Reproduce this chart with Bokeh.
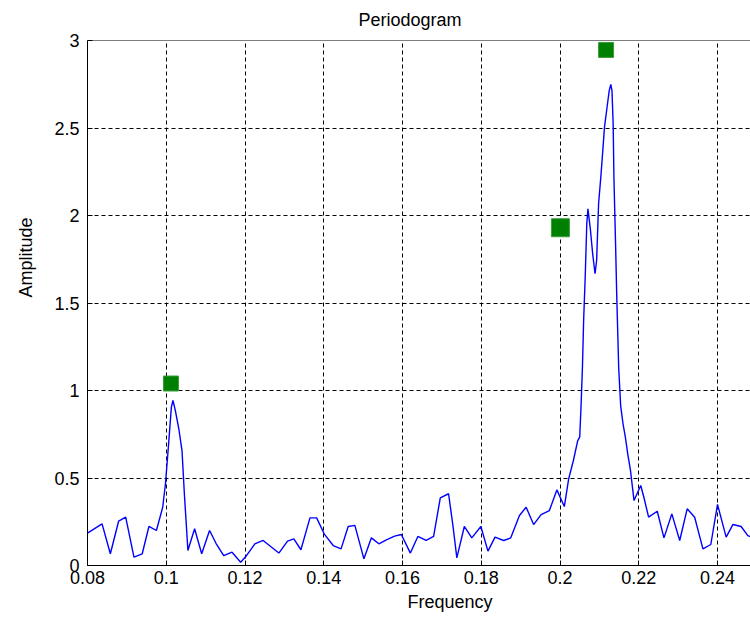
from bokeh.plotting import figure
from bokeh.models import Range1d, FixedTicker, Span, Title
from bokeh.embed import file_html
from bokeh.resources import INLINE

# ---- data ----
freq = [0.0800, 0.0837, 0.0858, 0.0879, 0.0897, 0.0918, 0.0939, 0.0956, 0.0975,
        0.0991, 0.0998, 0.1006, 0.1013, 0.1017, 0.1023, 0.1032, 0.1040, 0.1046,
        0.1055, 0.1072, 0.1090, 0.1110, 0.1127, 0.1146, 0.1167, 0.1189, 0.1201,
        0.1225, 0.1246, 0.1286, 0.1308, 0.1324, 0.1342, 0.1365, 0.1382, 0.1401,
        0.1424, 0.1444, 0.1462, 0.1479, 0.1502, 0.1521, 0.1540, 0.1559, 0.1580,
        0.1597, 0.1620, 0.1639, 0.1660, 0.1679, 0.1696, 0.1717, 0.1728, 0.1738,
        0.1757, 0.1776, 0.1799, 0.1817, 0.1835, 0.1857, 0.1875, 0.1897, 0.1914,
        0.1933, 0.1952, 0.1973, 0.1992, 0.2011, 0.2022, 0.2034, 0.2045, 0.2050,
        0.2053, 0.2057, 0.2060, 0.2064, 0.2068, 0.2071, 0.2077, 0.2083, 0.2089,
        0.2093, 0.2098, 0.2104, 0.2109, 0.2113, 0.2119, 0.2125, 0.2129, 0.2132,
        0.2135, 0.2137, 0.2141, 0.2144, 0.2149, 0.2154, 0.2160, 0.2166, 0.2172,
        0.2179, 0.2188, 0.2205, 0.2213, 0.2225, 0.2247, 0.2264, 0.2284, 0.2304,
        0.2323, 0.2342, 0.2363, 0.2383, 0.2400, 0.2422, 0.2439, 0.2460, 0.2477,
        0.2490]
amp = [0.185, 0.238, 0.067, 0.253, 0.276, 0.048, 0.067, 0.223, 0.200,
       0.333, 0.467, 0.695, 0.905, 0.943, 0.886, 0.780, 0.657, 0.410,
       0.086, 0.210, 0.067, 0.200, 0.124, 0.057, 0.076, 0.019, 0.048,
       0.124, 0.143, 0.071, 0.139, 0.152, 0.090, 0.272, 0.272, 0.181,
       0.114, 0.095, 0.223, 0.229, 0.038, 0.158, 0.124, 0.147, 0.168,
       0.177, 0.071, 0.166, 0.143, 0.166, 0.387, 0.410, 0.229, 0.044,
       0.223, 0.158, 0.223, 0.082, 0.162, 0.143, 0.158, 0.286, 0.333,
       0.234, 0.291, 0.314, 0.432, 0.337, 0.495, 0.600, 0.714, 0.733,
       0.886, 1.133, 1.400, 1.647, 1.952, 2.038, 1.924, 1.780, 1.667,
       1.743, 2.067, 2.229, 2.381, 2.505, 2.610, 2.714, 2.749, 2.714,
       2.524, 2.210, 1.848, 1.552, 1.133, 0.914, 0.810, 0.733, 0.638,
       0.543, 0.371, 0.457, 0.390, 0.276, 0.310, 0.158, 0.295, 0.143,
       0.324, 0.276, 0.095, 0.120, 0.349, 0.162, 0.234, 0.223, 0.171,
       0.160]

peak_freq = [0.1012, 0.2117]
peak_amp = [1.04, 2.946]
mid_freq = [0.2001]
mid_amp = [1.93]

x_ticks = [0.08, 0.10, 0.12, 0.14, 0.16, 0.18, 0.20, 0.22, 0.24]
x_tick_labels = ["0.08", "0.1", "0.12", "0.14", "0.16", "0.18", "0.2", "0.22", "0.24"]
y_ticks = [0, 0.5, 1, 1.5, 2, 2.5, 3]
y_tick_labels = ["0", "0.5", "1", "1.5", "2", "2.5", "3"]

FONT = "Liberation Sans"
FS = "18px"

p = figure(width=750, height=621, output_backend="svg", toolbar_location=None,
           x_range=Range1d(0.08, 0.24838), y_range=Range1d(0, 3),
           min_border_left=87, min_border_right=0, min_border_top=40,
           min_border_bottom=56)
p.background_fill_color = "white"
p.border_fill_color = "white"
p.outline_line_color = None

def add_title(text, side, offset, standoff, valign):
    t = Title(text=text, align="left", offset=offset, standoff=standoff,
              vertical_align=valign, text_font=FONT, text_font_size=FS,
              text_font_style="normal", text_color="black")
    p.add_layout(t, side)

add_title("Periodogram", "above", 271, 17, "top")
add_title("Frequency", "below", 320, 6, "bottom")
add_title("Amplitude", "left", 268, 28, "top")

for ax, ticks, labels in ((p.xaxis, x_ticks, x_tick_labels), (p.yaxis, y_ticks, y_tick_labels)):
    ax.ticker = FixedTicker(ticks=ticks)
    ax.major_label_overrides = {t: l for t, l in zip(ticks, labels)}
    ax.major_tick_in = 5
    ax.major_tick_out = 0
    ax.minor_tick_line_color = None
    ax.axis_line_color = "black"
    ax.major_tick_line_color = "black"
    ax.major_label_text_font = FONT
    ax.major_label_text_font_size = FS
    ax.major_label_text_color = "black"

p.xaxis.major_label_standoff = 5
p.yaxis.major_label_standoff = 8

p.xgrid.ticker = FixedTicker(ticks=x_ticks)
p.ygrid.ticker = FixedTicker(ticks=y_ticks)
for g in (p.xgrid, p.ygrid):
    g.grid_line_color = "black"
    g.grid_line_dash = "4 3"
    g.grid_line_width = 1

p.add_layout(Span(location=3, dimension="width", line_color="black", line_width=1))

p.line(freq, amp, line_color="#0000ff", line_width=1.4)
p.scatter(peak_freq, peak_amp, marker="square", size=15,
          fill_color="#008000", line_color="#3c9c3c")
p.scatter(mid_freq, mid_amp, marker="square", size=18,
          fill_color="#008000", line_color="#3c9c3c")

open("out.html", "w").write(file_html(p, INLINE))
